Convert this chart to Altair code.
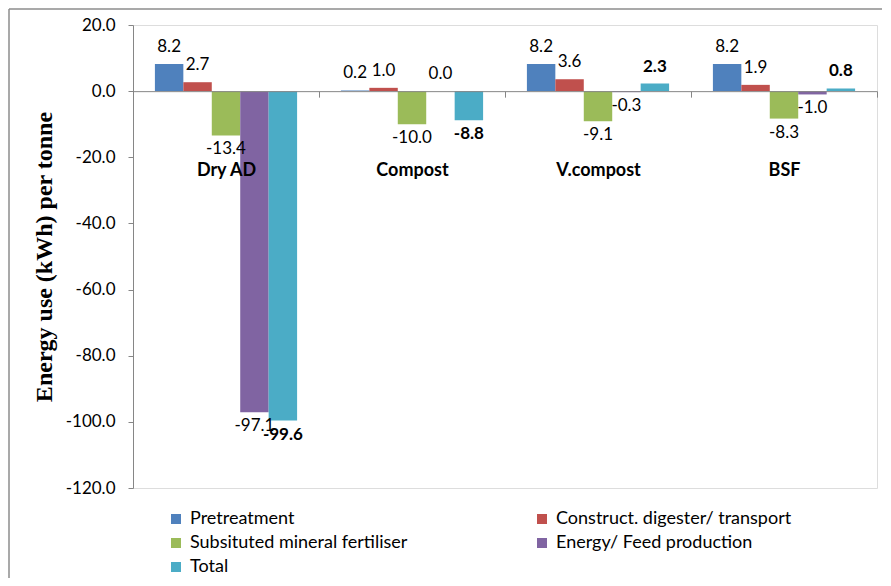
import altair as alt
import pandas as pd

categories = ["Dry AD", "Compost", "V.compost", "BSF"]
series = ["Pretreatment", "Construct. digester/ transport",
          "Subsituted mineral fertiliser", "Energy/ Feed production", "Total"]
pretreatment = [8.2, 0.2, 8.2, 8.2]
construct = [2.7, 1.0, 3.6, 1.9]
fertiliser = [-13.4, -10.0, -9.1, -8.3]
energy = [-97.1, 0.0, -0.3, -1.0]
total = [-99.6, -8.8, 2.3, 0.8]
colors = ["#4F81BD", "#C0504D", "#9BBB59", "#8064A2", "#4BACC6"]
y_ticks = [-120, -100, -80, -60, -40, -20, 0, 20]

rows = []
for s, vals in zip(series, [pretreatment, construct, fertiliser, energy, total]):
    for c, v in zip(categories, vals):
        rows.append({"category": c, "series": s, "value": v,
                     "isTotal": s == "Total"})
df = pd.DataFrame(rows)

W, H = 744, 463
YMIN, YMAX = -120, 20
zero_from_bottom = H * (0 - YMIN) / (YMAX - YMIN)
FONT = "Lato"
MINUS_FIX = "replace(datum.label, '\u2212', '-')"

base = alt.Chart(df).transform_calculate(
    txt="replace(format(datum.value, '.1f'), '\u2212', '-')"
)

x_enc = alt.X("category:N", sort=categories,
              scale=alt.Scale(paddingInner=0, paddingOuter=0),
              axis=alt.Axis(title=None, orient="bottom", offset=-zero_from_bottom,
                            labelAngle=0, labelFontWeight="bold", labelFontSize=18,
                            labelColor="#000000", labelPadding=64, tickBand="extent",
                            tickSize=6, tickColor="#868686", domainColor="#868686",
                            domainWidth=1, labelFont=FONT, zindex=1))
xo_enc = alt.XOffset("series:N", sort=series,
                     scale=alt.Scale(paddingOuter=0.77, paddingInner=0))
y_enc = alt.Y("value:Q",
              scale=alt.Scale(domain=[YMIN, YMAX], nice=False, zero=False),
              axis=alt.Axis(title="Energy use (kWh)  per tonne", values=y_ticks,
                            format=".1f", labelExpr=MINUS_FIX, grid=False, tickSize=5,
                            tickColor="#868686", domainColor="#868686",
                            labelFontSize=17, labelColor="#000000", labelPadding=13,
                            labelFont=FONT, titleFont="Liberation Serif",
                            titleFontSize=24, titleFontWeight="bold",
                            titleColor="#000000", titlePadding=9))

bars = base.mark_bar().encode(
    x=x_enc, xOffset=xo_enc, y=y_enc,
    color=alt.Color("series:N", sort=series,
                    scale=alt.Scale(domain=series, range=colors),
                    legend=alt.Legend(title=None, orient="none", legendX=34,
                                      legendY=485, columns=2, direction="horizontal",
                                      symbolType="square",
                                      symbolSize=100, symbolStrokeWidth=0,
                                      labelFontSize=18, labelFont=FONT,
                                      labelColor="#000000", rowPadding=6,
                                      columnPadding=125, labelLimit=400,
                                      labelOffset=5)),
)


def labels(pos, bold):
    cond = ("datum.value >= 0" if pos else "datum.value < 0")
    cond += (" && datum.isTotal" if bold else " && !datum.isTotal")
    return base.transform_filter(cond).mark_text(
        baseline="bottom" if pos else "top", dy=-8 if pos else 6,
        fontSize=17, font=FONT, color="#000000",
        fontWeight="bold" if bold else "normal",
    ).encode(x=alt.X("category:N", sort=categories),
             xOffset=alt.XOffset("series:N", sort=series),
             y="value:Q", text="txt:N")


frame_left = alt.Chart(pd.DataFrame({"a": [0]})).mark_rule(
    color="#8c8c8c", strokeWidth=1.5).encode(
    x=alt.value(-124), y=alt.value(-16), y2=alt.value(553))
frame_top = alt.Chart(pd.DataFrame({"a": [0]})).mark_rule(
    color="#8c8c8c", strokeWidth=1.5).encode(
    x=alt.value(-124), x2=alt.value(749), y=alt.value(-16))

chart = alt.layer(
    bars,
    labels(True, False), labels(False, False),
    labels(True, True), labels(False, True),
    frame_left, frame_top,
).properties(
    width=W, height=H,
    autosize=alt.AutoSizeParams(type="none"),
    padding={"left": 125, "top": 17, "right": 6, "bottom": 90},
).configure_view(strokeWidth=0).configure(font=FONT)

chart.save("out.html", embed_options={"renderer": "svg", "actions": False})
